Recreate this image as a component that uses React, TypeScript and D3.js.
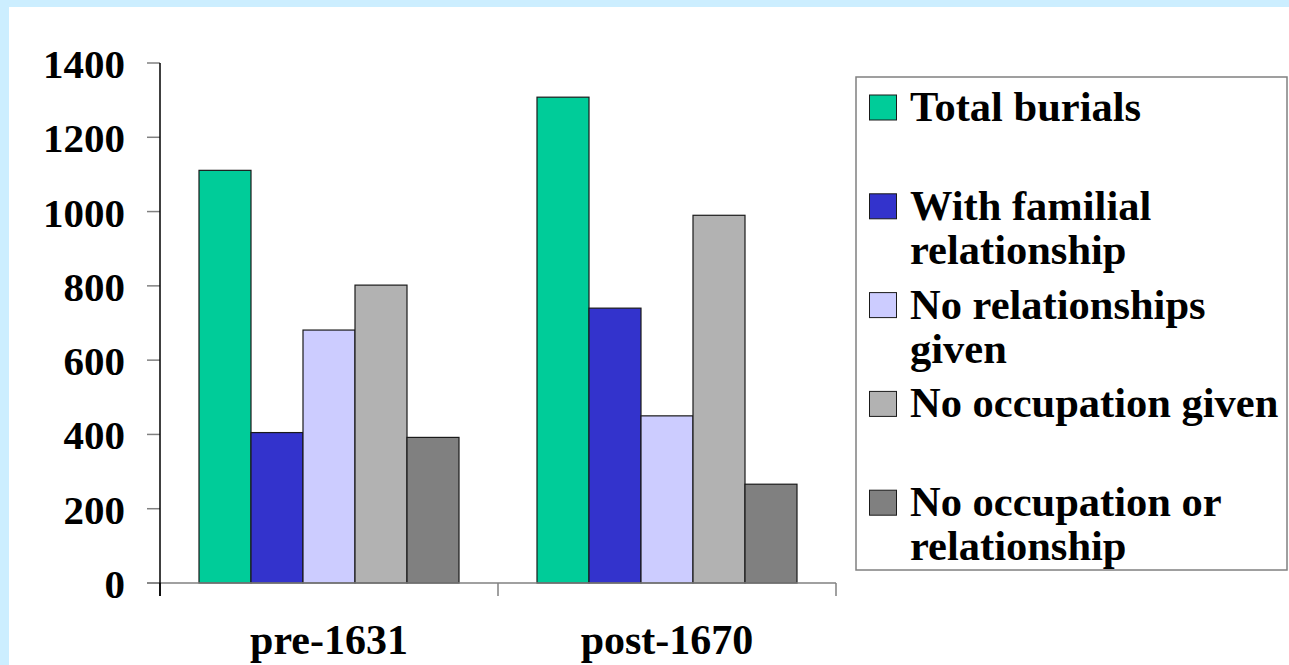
import React from "react";
import * as d3 from "d3";

const categories = ["pre-1631", "post-1670"];
const seriesNames = [
  "Total burials",
  "With familial relationship",
  "No relationships given",
  "No occupation given",
  "No occupation or relationship",
];
const legendLines = [
  ["Total burials"],
  ["With familial", "relationship"],
  ["No relationships", "given"],
  ["No occupation given"],
  ["No occupation or", "relationship"],
];
const seriesColors = ["#00CC99", "#3333CC", "#CCCCFF", "#B2B2B2", "#808080"];
const valuesPre = [1111, 405, 681, 802, 392];
const valuesPost = [1308, 740, 450, 990, 266];
const yTicks = [0, 200, 400, 600, 800, 1000, 1200, 1400];

const W = 1289;
const H = 665;
const FONT = "'Liberation Serif', 'Times New Roman', serif";

export default function App() {
  const plotLeft = 160;
  const plotRight = 836;
  const yTop = 63;
  const yBottom = 583;

  const x0 = d3.scaleBand<string>().domain(categories).range([plotLeft, plotRight]).padding(0);
  const x1 = d3
    .scaleBand<string>()
    .domain(seriesNames)
    .range([0, x0.bandwidth()])
    .paddingInner(0)
    .paddingOuter(0.75);
  const y = d3.scaleLinear().domain([0, 1400]).range([yBottom, yTop]);

  const data = [valuesPre, valuesPost];

  const legend = { x: 856, y: 77, w: 431, h: 493 };
  const firstBaseline = 121;
  const entryStep = 98.8;
  const lineStep = 44;

  React.useEffect(() => {
    document.body.style.margin = "0";
  }, []);

  const textStyle = { fontFamily: FONT, fontWeight: 700 as const };

  return (
    <svg
      width={W}
      height={H}
      style={{ position: "absolute", left: 0, top: 0, display: "block" }}
    >
      <rect x={0} y={0} width={W} height={H} fill="#CCEEFF" />
      <rect x={9} y={7} width={W - 9} height={H - 7} fill="#FFFFFF" />

      {/* bars */}
      {categories.map((c, ci) => (
        <g key={c} transform={`translate(${x0(c)},0)`}>
          {seriesNames.map((s, si) => {
            const v = data[ci][si];
            return (
              <rect
                key={s}
                x={x1(s)}
                y={y(v)}
                width={x1.bandwidth()}
                height={y(0) - y(v)}
                fill={seriesColors[si]}
                stroke="#1a1a1a"
                strokeWidth={1.2}
              />
            );
          })}
        </g>
      ))}

      {/* y ticks */}
      {yTicks.map((t) => (
        <g key={t}>
          <line x1={147} x2={plotLeft} y1={y(t)} y2={y(t)} stroke="#808080" strokeWidth={1.5} />
          <text x={125} y={y(t) + 15} textAnchor="end" fontSize={41} fill="#000" style={textStyle}>
            {t}
          </text>
        </g>
      ))}

      {/* x axis baseline */}
      <line x1={147} x2={plotRight} y1={yBottom} y2={yBottom} stroke="#808080" strokeWidth={1.5} />
      {/* category ticks */}
      {[plotLeft, ...categories.map((c) => (x0(c) as number) + x0.bandwidth())].map((xx, i) => (
        <line
          key={i}
          x1={xx}
          x2={xx}
          y1={yBottom}
          y2={yBottom + 13}
          stroke={i === 0 ? "#000" : "#808080"}
          strokeWidth={1.5}
        />
      ))}
      {/* y axis */}
      <line x1={plotLeft} x2={plotLeft} y1={yTop} y2={yBottom + 13} stroke="#000" strokeWidth={1.5} />

      {/* x labels */}
      {categories.map((c) => (
        <text
          key={c}
          x={(x0(c) as number) + x0.bandwidth() / 2}
          y={654}
          textAnchor="middle"
          fontSize={42}
          fill="#000"
          style={textStyle}
        >
          {c}
        </text>
      ))}

      {/* legend */}
      <rect
        x={legend.x}
        y={legend.y}
        width={legend.w}
        height={legend.h}
        fill="#fff"
        stroke="#808080"
        strokeWidth={1.5}
      />
      {legendLines.map((lines, i) => {
        const base = firstBaseline + i * entryStep;
        return (
          <g key={i}>
            <rect
              x={869.5}
              y={base - 26}
              width={27}
              height={25}
              fill={seriesColors[i]}
              stroke="#1a1a1a"
              strokeWidth={1}
            />
            {lines.map((ln, li) => (
              <text
                key={li}
                x={910}
                y={base + li * lineStep}
                fontSize={42.5}
                fill="#000"
                style={textStyle}
              >
                {ln}
              </text>
            ))}
          </g>
        );
      })}
    </svg>
  );
}
